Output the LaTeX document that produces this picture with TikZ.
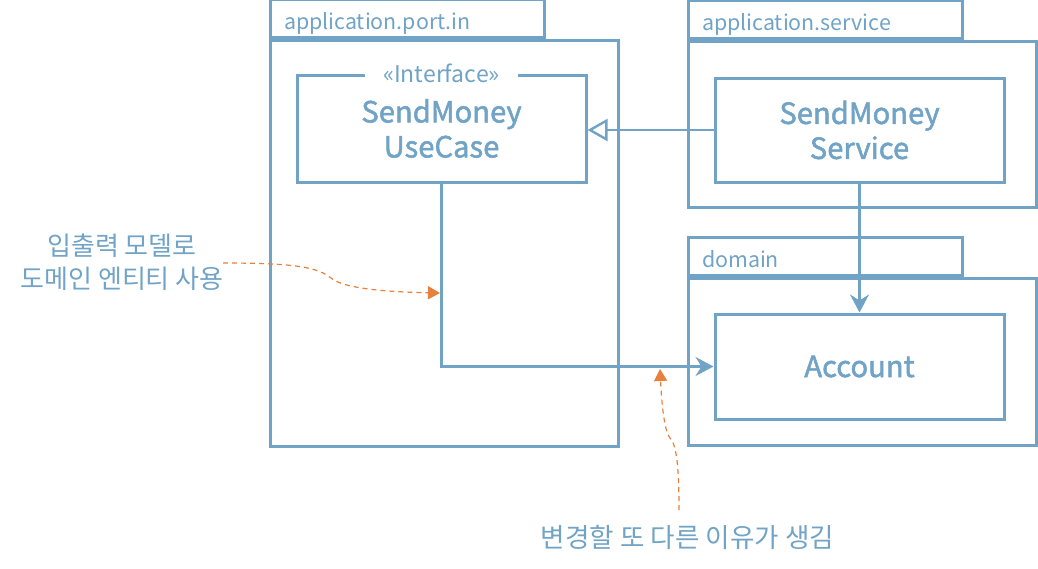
\documentclass[tikz,border=0pt]{standalone}
\usepackage{fontspec}
\setmainfont{Noto Sans CJK KR}
\newfontface\clsface{Noto Sans CJK KR}[FakeBold=1.7]
\usetikzlibrary{arrows.meta,positioning}
\definecolor{umlblue}{RGB}{112,163,197}
\definecolor{noteorange}{RGB}{230,128,60}

\begin{document}
\begin{tikzpicture}[
      x=0.5pt, y=-0.5pt,
      pkg/.style={draw=umlblue, line width=1.5pt, minimum width=174pt, inner sep=0pt},
      pkgtab/.style={draw=umlblue, line width=1.5pt, anchor=south west,
        minimum height=19pt, text width=123pt, inner xsep=7pt, inner ysep=0pt,
        text height=11pt, text depth=0pt,
        align=left, text=umlblue, font=\fontsize{10.7}{13}\selectfont},
      cls/.style={draw=umlblue, line width=1.5pt, minimum width=144.5pt,
        align=center, text=umlblue, font=\fontsize{14.6}{17.5}\clsface},
      stereo/.style={fill=white, inner xsep=9pt, inner ysep=1pt, text=umlblue,
        font=\fontsize{11.5}{14}\selectfont},
      note/.style={text=umlblue, align=center, font=\fontsize{13}{16.5}\selectfont},
      dep/.style={draw=umlblue, line width=1.2pt},
      notearrow/.style={draw=noteorange, line width=0.6pt, dash pattern=on 2.5pt off 2pt,
        -{Triangle[length=6pt, width=6.5pt]}}
    ]
    \useasboundingbox (0,0) rectangle (1038,568);

    % application.port.in
    \node[pkg, minimum height=203pt] (portin) at (444,243) {};
    \node[pkgtab] (portintab) at (portin.north west) {application.port.in};
    \node[cls, minimum height=53.5pt] (usecase) at (441.5,128.5) {SendMoney\\UseCase};
    \node[stereo] (usecasest) at (usecase.north) {«Interface»};

    % application.service
    \node[pkg, minimum height=83pt] (service) at (862,124) {};
    \node[pkgtab] (servicetab) at (service.north west) {application.service};
    \node[cls, minimum height=52pt] (sendsvc) at (859.5,130) {SendMoney\\Service};

    % domain
    \node[pkg, minimum height=83.5pt] (domain) at (862,361.5) {};
    \node[pkgtab] (domaintab) at (domain.north west) {domain};
    \node[cls, minimum height=52.5pt] (account) at (859.5,366.5) {Account};

    % dependencies
    \draw[dep, -{Triangle[open, length=10pt, width=11pt]}] (sendsvc.west) -- (sendsvc.west -| usecase.east);
    \draw[dep, -{Stealth[length=9pt, width=9.5pt, inset=3pt]}] (sendsvc.south) -- (account.north);
    \draw[dep, -{Stealth[length=9pt, width=9.5pt, inset=3pt]}] (usecase.south) |- (account.west);

    % notes
    \node[note] (modelnote) at (122,262) {입출력 모델로\\도메인 엔티티 사용};
    \coordinate (modelfrom) at (223,263);
    \coordinate (modelto) at (440,293);
    \draw[notearrow] (modelfrom) .. controls (300,263) and (318,268) .. (331,278)
      .. controls (344,289) and (390,292) .. (modelto);

    \node[note, font=\fontsize{13.3}{16}\selectfont] (changenote) at (687.5,537) {변경할 또 다른 이유가 생김};
    \coordinate (changefrom) at (679,510);
    \coordinate (changeto) at (660,369);
    \draw[notearrow] (changefrom) .. controls (679,470) and (677,445) .. (670,438)
      .. controls (665,432) and (662,410) .. (changeto);
  \end{tikzpicture}
\end{document}
